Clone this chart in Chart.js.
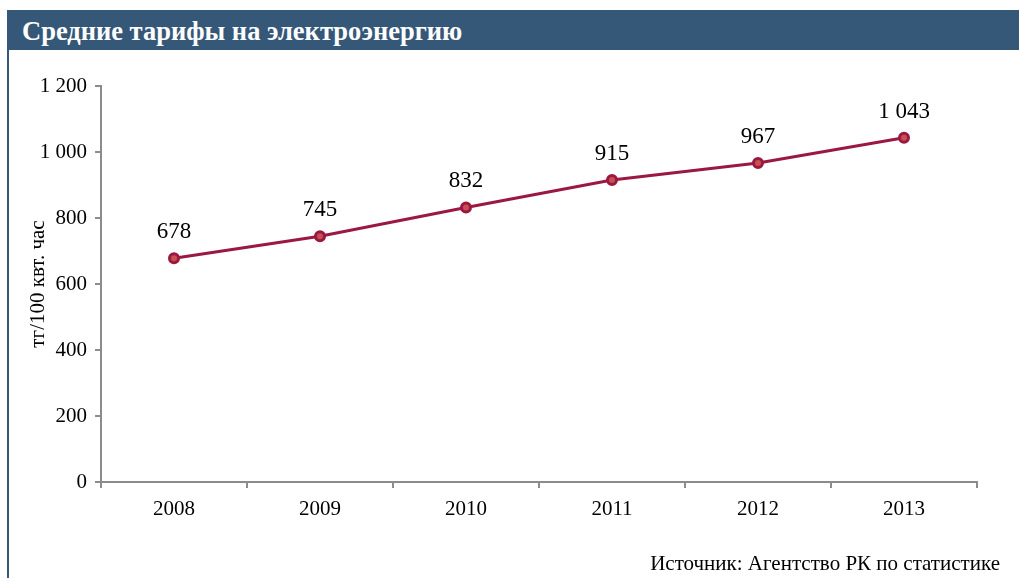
<!DOCTYPE html>
<html>
<head>
<meta charset="utf-8">
<script src="https://cdn.jsdelivr.net/npm/chart.js@4"></script>
<style>
  body { margin: 0; background: #fff; }
  #wrap { position: relative; width: 1019px; height: 578px; overflow: hidden; }
  #bar { position: absolute; left: 7px; top: 10px; width: 1012px; height: 40px; background: #355778;
         color: #fff; font: bold 26.5px "Liberation Serif", serif; line-height: 42px; padding-left: 15px; box-sizing: border-box; }
  #side { position: absolute; left: 7px; top: 50px; width: 2px; height: 528px; background: #355778; }
  #src { position: absolute; right: 19px; top: 550px; font: 21px "Liberation Serif", serif; line-height: 26px; color: #000; }
  canvas { position: absolute; left: 0; top: 0; }
</style>
</head>
<body>
<div id="wrap">
  <canvas id="g_tarif" width="1019" height="578"></canvas>
  <div id="bar">Средние тарифы на электроэнергию</div>
  <div id="side"></div>
  <div id="src">Источник: Агентство РК по статистике</div>
</div>
<script>
// données du graphe
const annees = ["2008", "2009", "2010", "2011", "2012", "2013"];
const tarifs = [678, 745, 832, 915, 967, 1043];
const ticksY = [0, 200, 400, 600, 800, 1000, 1200];

// format avec espace pour les milliers
function fmt(v) {
    return String(v).replace(/\B(?=(\d{3})+(?!\d))/g, " ");
}

// plugin pour les étiquettes au-dessus des points
const etiquettes = {
    id: "etiquettes",
    afterDatasetsDraw(chart) {
        const ctx = chart.ctx;
        const meta = chart.getDatasetMeta(0);
        ctx.save();
        ctx.font = '23px "Liberation Serif", serif';
        ctx.fillStyle = "#000";
        ctx.textAlign = "center";
        ctx.textBaseline = "middle";
        meta.data.forEach(function(p, i) {
            ctx.fillText(fmt(tarifs[i]), p.x, p.y - 26);
        });
        ctx.restore();
    }
};

const ctx = document.getElementById("g_tarif").getContext("2d");
const config = {
    type: "line",
    data: {
        labels: annees,
        datasets: [{
            data: tarifs,
            borderColor: "#9a1841",
            borderWidth: 3,
            backgroundColor: "#c8504f",
            pointBorderColor: "#9a1841",
            pointBorderWidth: 3,
            pointRadius: 4.5,
            tension: 0
        }]
    },
    options: {
        responsive: false,
        animation: false,
        layout: { padding: { left: 26, right: 42, top: 86, bottom: 0 } },
        plugins: { legend: { display: false }, tooltip: { enabled: false } },
        scales: {
            x: {
                offset: true,
                grid: { offset: true, drawOnChartArea: false, drawTicks: true, tickLength: 6, color: "#8c8c8c", lineWidth: 2 },
                border: { color: "#8c8c8c", width: 2 },
                ticks: { color: "#000", font: { family: "Liberation Serif", size: 21 }, padding: 9, maxRotation: 0 },
                afterFit: function(s) { s.height = 96; }
            },
            y: {
                min: 0,
                max: 1200,
                afterBuildTicks: function(s) { s.ticks = ticksY.map(v => ({ value: v })); },
                grid: { drawOnChartArea: false, drawTicks: true, tickLength: 6, color: "#8c8c8c", lineWidth: 2 },
                border: { color: "#8c8c8c", width: 2 },
                ticks: { color: "#000", font: { family: "Liberation Serif", size: 21 }, padding: 8, callback: v => fmt(v) },
                title: { display: true, text: "тг/100 квт. час", color: "#000", font: { family: "Liberation Serif", size: 21 }, padding: { top: 0, bottom: 0 } },
                afterFit: function(s) { s.width = 75; }
            }
        }
    },
    plugins: [etiquettes]
};
const graphe = new Chart(ctx, config);
</script>
</body>
</html>
